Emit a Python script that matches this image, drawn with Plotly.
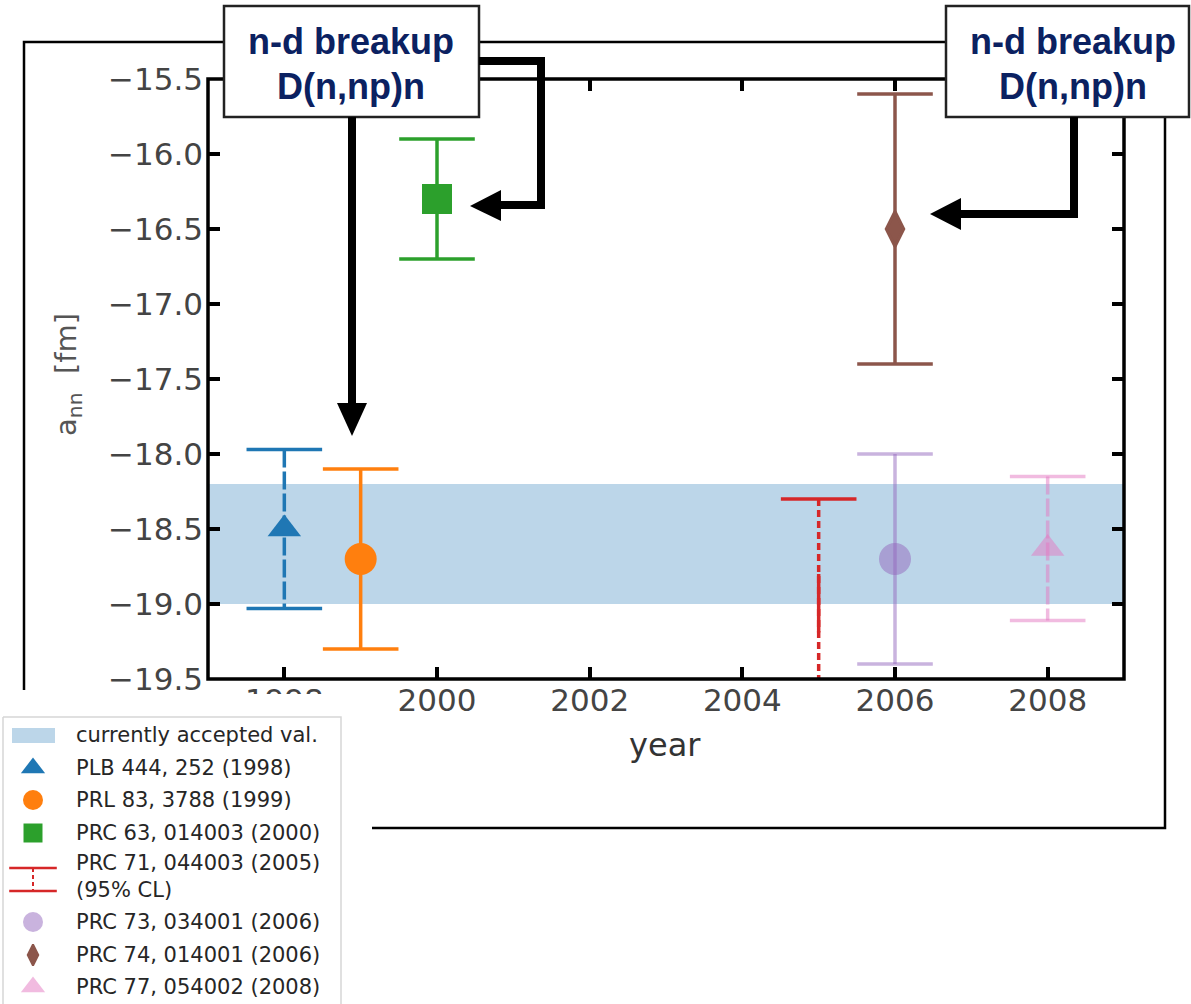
import plotly.graph_objects as go

W, H = 1191, 1004

# ---- measurements of the neutron-neutron scattering length a_nn [fm] ----
ref_labels = ["PLB 444, 252 (1998)", "PRL 83, 3788 (1999)", "PRC 63, 014003 (2000)",
              "PRC 73, 034001 (2006)", "PRC 74, 014001 (2006)", "PRC 77, 054002 (2008)"]
years = [1998, 1999, 2000, 2006, 2006, 2008]
a_nn = [-18.50, -18.70, -16.30, -18.70, -16.50, -18.63]
a_nn_err = [0.53, 0.60, 0.40, 0.70, 0.90, 0.48]

# 95% CL result (2005): only the upper end lies inside the plotted range
limit_label = "PRC 71, 044003 (2005)"
limit_year = 2005
limit_upper = -18.30
limit_lower = -21.00
limit_solid_part = [-18.80, -19.19]

# currently accepted value, shown as a band
band_center = -18.6
band_half = 0.4

x_ticks = [1998, 2000, 2002, 2004, 2006, 2008]
y_ticks = [-15.5, -16.0, -16.5, -17.0, -17.5, -18.0, -18.5, -19.0, -19.5]

# ---- styling ----
colors = ["rgb(31,119,180)", "rgb(255,127,14)", "rgb(44,160,44)",
          "rgba(148,103,189,0.5)", "rgb(140,86,75)", "rgba(227,119,194,0.5)"]
symbols = ["triangle-up", "circle", "square", "circle", "diamond-tall", "triangle-up"]
sizes = [29, 32, 30, 32, 25, 29]
legend_sizes = [21, 20, 19, 20, 15, 21]
stem_dash = ["18px,4px", "solid", "solid", "solid", "solid", "18px,4px"]
limit_color = "rgb(214,39,40)"
band_color = "rgb(188,214,233)"
navy = "#0b2161"
LW = 3.5
CAP = 54

# main axes box in pixels (left, right, top, bottom)
AX_L, AX_R, AX_T, AX_B = 208, 1124, 79, 679

fig = go.Figure()

# ---- data traces on the main axes ----
for i in range(len(years)):
    x, v, e = years[i], a_nn[i], a_nn_err[i]
    fig.add_trace(go.Scatter(x=[x, x], y=[v + e, v - e], mode="lines",
                             line=dict(color=colors[i], width=LW, dash=stem_dash[i]),
                             showlegend=False, hoverinfo="skip"))
    fig.add_trace(go.Scatter(x=[x, x], y=[v + e, v - e], mode="markers",
                             marker=dict(symbol="line-ew", size=CAP,
                                         line=dict(color=colors[i], width=LW)),
                             showlegend=False, hoverinfo="skip"))
    mline = dict(width=3, color=colors[i]) if symbols[i] == "diamond-tall" else dict(width=0)
    fig.add_trace(go.Scatter(x=[x], y=[v], mode="markers", name=ref_labels[i],
                             marker=dict(symbol=symbols[i], size=sizes[i], color=colors[i],
                                         line=mline),
                             showlegend=False, hoverinfo="skip"))

# 95% CL bar: dashed stem with a solid stretch, cap at the upper end
fig.add_trace(go.Scatter(x=[limit_year, limit_year], y=[limit_upper, limit_lower], mode="lines",
                         line=dict(color=limit_color, width=LW, dash="7px,4px"),
                         showlegend=False, hoverinfo="skip"))
fig.add_trace(go.Scatter(x=[limit_year, limit_year], y=limit_solid_part, mode="lines",
                         line=dict(color=limit_color, width=LW),
                         showlegend=False, hoverinfo="skip"))
fig.add_trace(go.Scatter(x=[limit_year, limit_year], y=[limit_upper, limit_lower], mode="markers",
                         marker=dict(symbol="line-ew", size=CAP,
                                     line=dict(color=limit_color, width=LW)),
                         showlegend=False, hoverinfo="skip"))

# accepted-value band
fig.add_shape(type="rect", xref="x domain", yref="y", x0=0, x1=1,
              y0=band_center - band_half, y1=band_center + band_half,
              fillcolor=band_color, line=dict(width=0), layer="below")
# axes frame, centred on the plotting-area edges
fig.add_shape(type="rect", xref="x domain", yref="y domain", x0=0, x1=1, y0=0, y1=1,
              line=dict(color="black", width=LW), fillcolor="rgba(0,0,0,0)", layer="above")

# ---- legend drawn on a pixel-space overlay axis ----
LEG_TEXT_X = 74
LEG_KEY_X = 33
leg_rows = [768, 800, 833, 922, 955, 987]
limit_rows = [863, 890]

# white patch under the legend, then the legend frame
fig.add_trace(go.Scatter(x=[0, 370, 370, 0, 0], y=[694, 694, H + 5, H + 5, 694],
                         xaxis="x2", yaxis="y2", mode="lines", fill="toself",
                         fillcolor="white", line=dict(width=0),
                         showlegend=False, hoverinfo="skip"))
fig.add_trace(go.Scatter(x=[3, 341, 341, 3, 3], y=[717, 717, H + 10, H + 10, 717],
                         xaxis="x2", yaxis="y2", mode="lines", fill="toself",
                         fillcolor="white", line=dict(width=1.5, color="#d6d6d6"),
                         showlegend=False, hoverinfo="skip"))
# band key
fig.add_trace(go.Scatter(x=[12, 55, 55, 12, 12], y=[728, 728, 743, 743, 728],
                         xaxis="x2", yaxis="y2", mode="lines", fill="toself",
                         fillcolor=band_color, line=dict(width=0),
                         showlegend=False, hoverinfo="skip"))
# marker keys
for i in range(len(years)):
    mline = dict(width=2, color=colors[i]) if symbols[i] == "diamond-tall" else dict(width=0)
    fig.add_trace(go.Scatter(x=[LEG_KEY_X], y=[leg_rows[i]], xaxis="x2", yaxis="y2",
                             mode="markers",
                             marker=dict(symbol=symbols[i], size=legend_sizes[i],
                                         color=colors[i], line=mline),
                             showlegend=False, hoverinfo="skip"))
# errorbar key for the 95% CL entry
fig.add_trace(go.Scatter(x=[LEG_KEY_X, LEG_KEY_X], y=[868, 891], xaxis="x2", yaxis="y2",
                         mode="lines", line=dict(color=limit_color, width=2, dash="4px,3px"),
                         showlegend=False, hoverinfo="skip"))
fig.add_trace(go.Scatter(x=[LEG_KEY_X, LEG_KEY_X], y=[868, 891], xaxis="x2", yaxis="y2",
                         mode="markers",
                         marker=dict(symbol="line-ew", size=34,
                                     line=dict(color=limit_color, width=2.5)),
                         showlegend=False, hoverinfo="skip"))

leg_font = dict(family="DejaVu Sans", size=21, color="#262626")
annotations = [dict(x=LEG_TEXT_X, y=735, xref="x2", yref="y2", text="currently accepted val.",
                    showarrow=False, xanchor="left", yanchor="middle", font=leg_font)]
for i in range(len(years)):
    annotations.append(dict(x=LEG_TEXT_X, y=leg_rows[i], xref="x2", yref="y2",
                            text=ref_labels[i], showarrow=False, xanchor="left",
                            yanchor="middle", font=leg_font))
annotations.append(dict(x=LEG_TEXT_X, y=limit_rows[0], xref="x2", yref="y2", text=limit_label,
                        showarrow=False, xanchor="left", yanchor="middle", font=leg_font))
annotations.append(dict(x=LEG_TEXT_X, y=limit_rows[1], xref="x2", yref="y2", text="(95% CL)",
                        showarrow=False, xanchor="left", yanchor="middle", font=leg_font))

# axis titles
annotations.append(dict(x=665, y=745, xref="x2", yref="y2", text="year", showarrow=False,
                        xanchor="center", yanchor="middle",
                        font=dict(family="DejaVu Sans", size=32, color="#333")))
annotations.append(dict(x=68, y=375, xref="x2", yref="y2", text="a<sub>nn</sub>  [fm]",
                        showarrow=False, textangle=-90, xanchor="center", yanchor="middle",
                        font=dict(family="DejaVu Sans", size=29, color="#555")))

# "n-d breakup" callouts
box_font = dict(family="Liberation Sans", size=36, color=navy, weight="bold")
for cx in (351, 1073):
    annotations.append(dict(x=cx, y=41, xref="x2", yref="y2", text="n-d breakup",
                            showarrow=False, xanchor="center", yanchor="middle", font=box_font))
    annotations.append(dict(x=cx, y=86, xref="x2", yref="y2", text="D(n,np)n",
                            showarrow=False, xanchor="center", yanchor="middle", font=box_font))

# ---- decorative shapes in pixel space ----
shapes = []
# outer frame
shapes.append(dict(type="path", xref="x2", yref="y2", layer="above",
                   path="M24,690 L24,42 L1165,42 L1165,828 L372,828",
                   line=dict(color="black", width=2.5)))
# callout boxes
for x0, x1 in ((224, 479), (946, 1189)):
    shapes.append(dict(type="rect", xref="x2", yref="y2", layer="above",
                       x0=x0, x1=x1, y0=6, y1=117, fillcolor="white",
                       line=dict(color="#222", width=2.5)))
# arrows
arrow_line = dict(color="black", width=8)
shapes += [
    dict(type="path", xref="x2", yref="y2", layer="above",
         path="M352,117 L352,406", line=arrow_line),
    dict(type="path", xref="x2", yref="y2", layer="above",
         path="M337,403 L367,403 L352,436 Z", fillcolor="black", line=dict(width=0)),
    dict(type="path", xref="x2", yref="y2", layer="above",
         path="M479,61 L541,61 L541,205 L498,205", line=arrow_line),
    dict(type="path", xref="x2", yref="y2", layer="above",
         path="M501,190 L501,221 L470,206 Z", fillcolor="black", line=dict(width=0)),
    dict(type="path", xref="x2", yref="y2", layer="above",
         path="M1074,117 L1074,214 L958,214", line=arrow_line),
    dict(type="path", xref="x2", yref="y2", layer="above",
         path="M961,198 L961,230 L930,214 Z", fillcolor="black", line=dict(width=0)),
]
for s in shapes:
    fig.add_shape(s)

tick_font = dict(family="DejaVu Sans", size=31, color="#444")
axis_common = dict(showline=False, mirror="ticks",
                   ticks="inside", ticklen=12, tickwidth=LW, tickcolor="black",
                   showgrid=False, zeroline=False, automargin=False, tickfont=tick_font,
                   fixedrange=True)

fig.update_layout(
    width=W, height=H, autosize=False,
    margin=dict(l=0, r=0, t=0, b=0),
    paper_bgcolor="white", plot_bgcolor="rgba(0,0,0,0)",
    showlegend=False,
    xaxis=dict(domain=[AX_L / W, AX_R / W], range=[1997, 2009],
               tickvals=x_ticks, ticktext=[str(t) for t in x_ticks], **axis_common),
    yaxis=dict(domain=[1 - AX_B / H, 1 - AX_T / H], range=[-19.5, -15.5],
               tickvals=y_ticks, tickformat=".1f", ticklabelstandoff=4, **axis_common),
    xaxis2=dict(domain=[0, 1], range=[0, W], visible=False, anchor="y2", fixedrange=True),
    yaxis2=dict(domain=[0, 1], range=[H, 0], visible=False, anchor="x2", fixedrange=True),
    annotations=annotations,
)

fig.write_html("out.html")
